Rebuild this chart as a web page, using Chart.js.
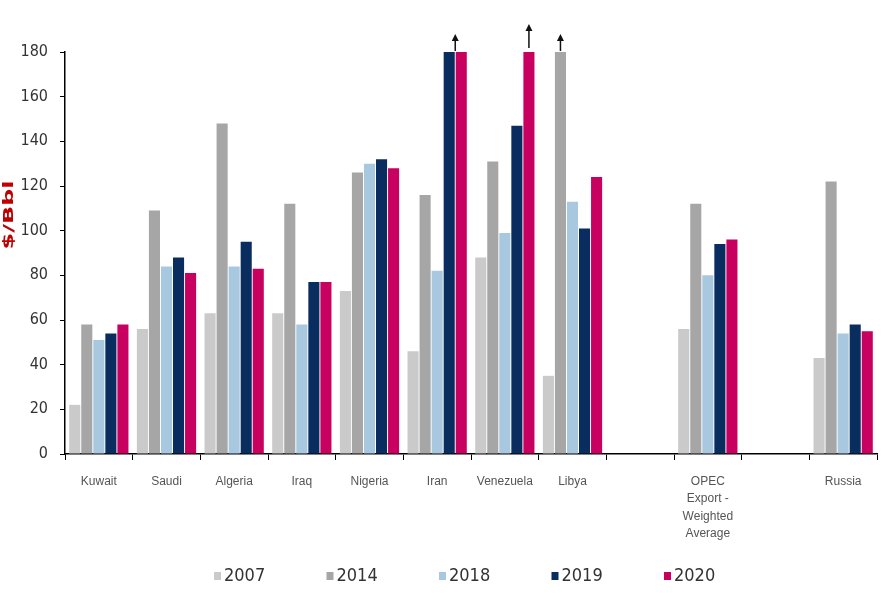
<!DOCTYPE html>
<html>
<head>
<meta charset="utf-8">
<script src="https://cdn.jsdelivr.net/npm/chart.js@4/dist/chart.umd.min.js"></script>
<style>
  html, body { margin: 0; padding: 0; background: #fff; }
  #wrap { width: 889px; height: 593px; }
</style>
</head>
<body>
<div id="wrap"><canvas id="chart"></canvas></div>
<script>
// categories (blank slots are the gaps in the original layout)
const countries = ['Kuwait', 'Saudi', 'Algeria', 'Iraq', 'Nigeria', 'Iran', 'Venezuela', 'Libya', '',
    ['OPEC', 'Export -', 'Weighted', 'Average'], '', 'Russia'];
const years = ['2007', '2014', '2018', '2019', '2020'];

// fiscal breakeven, $/Bbl (bars above 180 are cut off at the axis top)
const y2007 = [22, 56, 63, 63, 73, 46, 88, 35, null, 56, null, 43];
const y2014 = [58, 109, 148, 112, 126, 116, 131, 180, null, 112, null, 122];
const y2018 = [51, 84, 84, 58, 130, 82, 99, 113, null, 80, null, 54];
const y2019 = [54, 88, 95, 77, 132, 180, 147, 101, null, 94, null, 58];
const y2020 = [58, 81, 83, 77, 128, 180, 180, 124, null, 96, null, 55];

const yTicks = [0, 20, 40, 60, 80, 100, 120, 140, 160, 180];

// bars that run off the top: [dataset index, category index, arrow length]
const offScale = [[3.5, 5, 17], [4, 6, 24], [1, 7, 17]];

const colors = ['#cacaca', '#a6a6a6', '#a8c8e0', '#0a2d5f', '#c8005f'];
const narrow = "'DejaVu Sans Condensed', 'Liberation Sans Narrow', sans-serif";

const extrasPlugin = {
    id: 'extras',
    afterDatasetsDraw(chart) {
        const ctx = chart.ctx;
        const top = chart.scales.y.getPixelForValue(180);
        ctx.save();
        ctx.strokeStyle = '#111';
        ctx.fillStyle = '#111';
        ctx.lineWidth = 1.5;
        offScale.forEach(([ds, cat, len]) => {
            const lo = Math.floor(ds), hi = Math.ceil(ds);
            const x = (chart.getDatasetMeta(lo).data[cat].x + chart.getDatasetMeta(hi).data[cat].x) / 2;
            const base = len > 20 ? top - 4 : top - 1;
            ctx.beginPath();
            ctx.moveTo(x, base);
            ctx.lineTo(x, base - len + 4);
            ctx.stroke();
            ctx.beginPath();
            ctx.moveTo(x, base - len);
            ctx.lineTo(x - 3.5, base - len + 7);
            ctx.lineTo(x + 3.5, base - len + 7);
            ctx.closePath();
            ctx.fill();
        });
        ctx.restore();
    },
    afterDraw(chart) {
        const ctx = chart.ctx;
        ctx.save();
        // legend row along the bottom
        ctx.font = "18px " + narrow;
        ctx.textBaseline = 'middle';
        ctx.textAlign = 'left';
        chart.data.datasets.forEach((ds, i) => {
            const x = 214 + i * 112.5;
            ctx.fillStyle = ds.backgroundColor;
            ctx.fillRect(x, 572, 7, 8);
            ctx.fillStyle = '#333';
            ctx.fillText(ds.label, x + 10, 576);
        });
        // rotated unit label, stretched like the original
        ctx.translate(9, 215);
        ctx.rotate(-Math.PI / 2);
        ctx.scale(1.9, 1);
        ctx.font = "bold 14px " + narrow;
        ctx.fillStyle = '#c00000';
        ctx.textAlign = 'center';
        ctx.fillText('$/Bbl', 0, 0);
        ctx.restore();
    }
};

const series = [y2007, y2014, y2018, y2019, y2020];

new Chart(document.getElementById('chart'), {
    type: 'bar',
    data: {
        labels: countries,
        datasets: series.map((d, i) => ({
            label: years[i],
            data: d,
            backgroundColor: colors[i],
            categoryPercentage: 0.89,
            barPercentage: 0.92
        }))
    },
    options: {
        responsive: true,
        maintainAspectRatio: false,
        animation: false,
        layout: { padding: { top: 52, right: 12, left: 0, bottom: 0 } },
        scales: {
            x: {
                grid: { display: true, drawOnChartArea: false, offset: true, color: '#000', tickLength: 6 },
                border: { color: '#000', width: 1.5 },
                ticks: {
                    color: '#555',
                    font: { family: "'Liberation Sans', sans-serif", size: 12, lineHeight: 1.45 },
                    padding: 13,
                    maxRotation: 0,
                    autoSkip: false
                },
                afterFit: (s) => { s.height = 139; }
            },
            y: {
                min: 0,
                max: 180,
                afterBuildTicks: (s) => { s.ticks = yTicks.map(v => ({ value: v })); },
                grid: { display: true, drawOnChartArea: false, color: '#000', tickLength: 5 },
                border: { color: '#000', width: 1.5 },
                ticks: {
                    color: '#333',
                    font: { family: narrow, size: 16 },
                    padding: 12
                },
                afterFit: (s) => { s.width = 65; }
            }
        },
        plugins: {
            legend: { display: false },
            tooltip: { enabled: false }
        }
    },
    plugins: [extrasPlugin]
});
</script>
</body>
</html>
